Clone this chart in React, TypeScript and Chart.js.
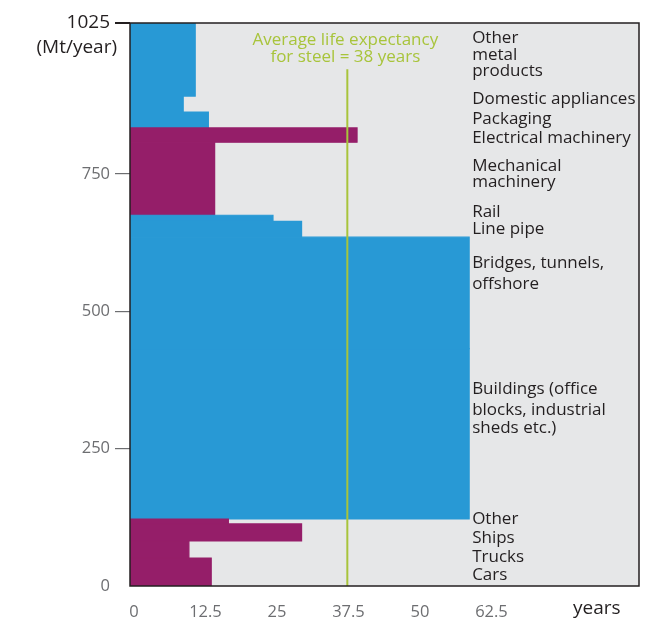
import React, { useEffect, useRef } from 'react';
import { Chart, registerables } from 'chart.js';

Chart.register(...registerables);

// ---- Data ----
const categories = [
  'Cars',
  'Trucks',
  'Ships',
  'Other',
  'Buildings (office blocks, industrial sheds etc.)',
  'Bridges, tunnels, offshore',
  'Line pipe',
  'Rail',
  'Mechanical machinery',
  'Electrical machinery',
  'Packaging',
  'Domestic appliances',
  'Other metal products',
];
// steel use, Mt/year (height of each block)
const steelUse = [51, 31, 31, 9, 310, 203, 29, 11, 133, 26, 29, 29, 133];
// product life, years (width of each block)
const lifeYears = [14.2, 10.3, 30, 17.2, 59.3, 59.3, 30, 25, 14.8, 39.7, 13.7, 9.3, 11.4];
// colour group: 'vm' = vehicles & machinery, 'cp' = construction & products
const colourGroup = ['vm', 'vm', 'vm', 'vm', 'cp', 'cp', 'cp', 'cp', 'vm', 'vm', 'cp', 'cp', 'cp'];

const averageLife = 38;
const averageLineTop = 941;
const yTicks = [0, 250, 500, 750, 1025];
const xTicks = [0, 12.5, 25, 37.5, 50, 62.5];
const xMax = 89;

// right-hand labels: [text, baseline in Mt/year units]
const labelLines: [string, number][] = [
  ['Other', 988], ['metal', 957.6], ['products', 929],
  ['Domestic appliances', 877.5], ['Packaging', 841], ['Electrical machinery', 806],
  ['Mechanical', 755.5], ['machinery', 727],
  ['Rail', 672.3], ['Line pipe', 640.3],
  ['Bridges, tunnels,', 578.4], ['offshore', 540.7],
  ['Buildings (office', 349.5], ['blocks, industrial', 311.3], ['sheds etc.)', 278],
  ['Other', 112.9], ['Ships', 78.8], ['Trucks', 44.2], ['Cars', 10.9],
];
const avgText = ['Average life expectancy', 'for steel = 38 years'];
const avgTextBaselines = [985, 954.5];

// ---- Styles ----
const COLORS: Record<string, string> = { vm: '#951e69', cp: '#2899d5' };
const BG = '#e6e7e8';
const GREEN = '#a8c43b';
const DARK = '#231f20';
const GREY = '#6d6e71';
const FONT = "'Open Sans', 'DejaVu Sans', sans-serif";

export default function App() {
  const ref = useRef<HTMLCanvasElement | null>(null);

  useEffect(() => {
    if (!ref.current) return;

    let cum = 0;
    const blockSets = categories.map((name, i) => {
      const start = cum;
      const end = cum + steelUse[i];
      cum = end;
      const col = COLORS[colourGroup[i]];
      return {
        type: 'line' as const,
        label: name,
        data: [
          { x: 0, y: start },
          { x: lifeYears[i], y: start },
          { x: lifeYears[i], y: end },
          { x: 0, y: end },
          { x: 0, y: start },
        ],
        fill: 'shape' as const,
        backgroundColor: col,
        borderColor: col,
        borderWidth: 1.2,
        pointRadius: 0,
        tension: 0,
        order: 2,
      };
    });

    const avgSet = {
      type: 'line' as const,
      label: 'Average life expectancy',
      data: [
        { x: averageLife, y: 0 },
        { x: averageLife, y: averageLineTop },
      ],
      fill: false,
      borderColor: GREEN,
      borderWidth: 2,
      pointRadius: 0,
      order: 0,
    };

    const bgPlugin = {
      id: 'bgPlugin',
      beforeDraw(chart: any) {
        const { ctx, chartArea: a } = chart;
        ctx.save();
        ctx.fillStyle = BG;
        ctx.fillRect(a.left, a.top, a.right - a.left, a.bottom - a.top);
        ctx.restore();
      },
      afterDraw(chart: any) {
        const { ctx, chartArea: a, scales } = chart;
        const xs = scales.x;
        const ys = scales.y;
        ctx.save();
        // frame
        ctx.strokeStyle = DARK;
        ctx.lineWidth = 1.5;
        ctx.strokeRect(a.left, a.top, a.right - a.left, a.bottom - a.top);

        // unit label
        ctx.fillStyle = DARK;
        ctx.font = `19px ${FONT}`;
        ctx.textAlign = 'right';
        ctx.textBaseline = 'alphabetic';
        ctx.fillText('(Mt/year)', a.left - 13, a.top + 30);

        // years label
        ctx.textAlign = 'left';
        ctx.font = `19px ${FONT}`;
        ctx.fillText('years', a.right - 66, a.bottom + 28);

        // average text
        ctx.fillStyle = GREEN;
        ctx.font = `17px ${FONT}`;
        ctx.textAlign = 'center';
        const cx = xs.getPixelForValue(averageLife) - 2;
        avgText.forEach((t, i) => ctx.fillText(t, cx, ys.getPixelForValue(avgTextBaselines[i])));

        // category labels
        ctx.fillStyle = DARK;
        ctx.textAlign = 'left';
        ctx.font = `17px ${FONT}`;
        const lx = xs.getPixelForValue(Math.max(...lifeYears)) + 3;
        labelLines.forEach(([t, v]) => ctx.fillText(t, lx, ys.getPixelForValue(v)));
        ctx.restore();
      },
    };

    const chart = new Chart(ref.current, {
      type: 'line',
      data: { datasets: [avgSet as any, ...blockSets] },
      options: {
        animation: false,
        responsive: true,
        maintainAspectRatio: false,
        layout: { padding: { top: 23, right: 22, left: 0, bottom: 0 } },
        plugins: { legend: { display: false }, tooltip: { enabled: false } },
        scales: {
          x: {
            type: 'linear',
            min: 0,
            max: xMax,
            afterBuildTicks: (s: any) => {
              s.ticks = xTicks.map((v) => ({ value: v }));
            },
            afterFit: (s: any) => {
              s.height = 33;
            },
            grid: { display: false },
            border: { display: false },
            ticks: {
              color: GREY,
              font: { family: FONT, size: 16.5 },
              padding: 8,
              labelOffset: 4,
              maxRotation: 0,
              callback: (v: any) => String(v),
            },
          },
          y: {
            type: 'linear',
            min: 0,
            max: 1025,
            afterBuildTicks: (s: any) => {
              s.ticks = yTicks.map((v) => ({ value: v }));
            },
            afterFit: (s: any) => {
              s.width = 130;
            },
            border: { display: false },
            grid: {
              drawOnChartArea: false,
              drawTicks: true,
              tickLength: 15,
              color: (c: any) =>
                c.tick && c.tick.value === 0 ? 'rgba(0,0,0,0)' : c.tick && c.tick.value === 1025 ? DARK : GREY,
              lineWidth: (c: any) => (c.tick && c.tick.value === 1025 ? 2 : 1.2),
            },
            ticks: {
              padding: 5,
              color: (c: any) => (c.tick && c.tick.value === 1025 ? DARK : GREY),
              font: (c: any) =>
                c.tick && c.tick.value === 1025 ? { family: FONT, size: 19 } : { family: FONT, size: 16.5 },
              callback: (v: any) => String(v),
            },
          },
        },
      },
      plugins: [bgPlugin],
    });

    return () => chart.destroy();
  }, []);

  return (
    <div style={{ position: 'absolute', left: 0, top: 0, width: 661, height: 619 }}>
      <canvas ref={ref} />
    </div>
  );
}
